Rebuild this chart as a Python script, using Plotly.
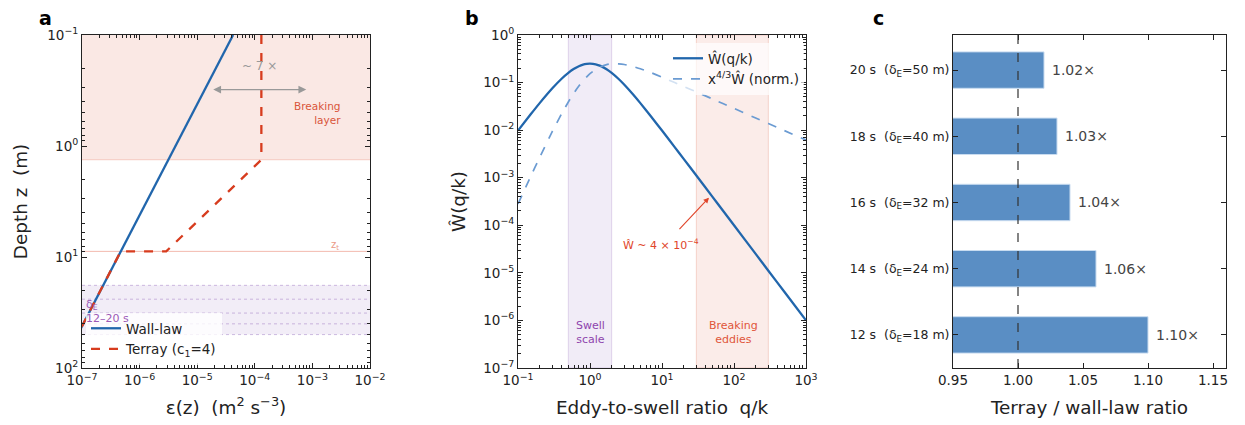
import math
import plotly.graph_objects as go

# ---------------- Panel a data ----------------
wall_depth = [0.1, 1.0, 8.9, 42.0, 100.0]
wall_eps = [4.2e-5, 4.2e-6, 4.7e-7, 1.0e-7, 4.2e-8]
terray_depth = [0.1, 1.33, 8.9, 8.9, 42.0, 100.0]
terray_eps = [1.3e-4, 1.3e-4, 2.9e-6, 4.7e-7, 1.0e-7, 4.2e-8]
breaking_layer = [0.1, 1.33]
z_t = 8.9
delta_E = [18, 24, 32, 40, 50]
ratio_arrow_eps = [1.9e-5, 8.3e-4]
ratio_arrow_depth = 0.31

# ---------------- Panel b data ----------------
qk = [0.1, 0.15, 0.2, 0.3, 0.4, 0.5, 0.6, 0.7, 0.8, 0.9, 1.0, 1.2, 1.4, 1.7, 2.0,
      2.5, 3.0, 4.0, 5.0, 7.0, 10.0, 15.0, 20.0, 30.0, 50.0, 70.0, 100.0, 200.0,
      300.0, 500.0, 1000.0]
W_hat = [0.0098, 0.0215, 0.037, 0.0758, 0.119, 0.16, 0.195, 0.221, 0.238, 0.247,
         0.25, 0.242, 0.224, 0.191, 0.16, 0.119, 0.09, 0.0554, 0.037, 0.0196, 0.0098,
         0.0044, 0.00249, 0.00111, 0.0004, 0.000204, 0.0001, 0.000025, 0.0000111,
         0.000004, 0.000001]
W_comp = [0.00028, 0.00106, 0.00267, 0.00937, 0.0216, 0.0391, 0.0607, 0.0845,
          0.109, 0.132, 0.154, 0.19, 0.216, 0.239, 0.248, 0.248, 0.24, 0.216, 0.195,
          0.162, 0.13, 0.1, 0.083, 0.0637, 0.0454, 0.0363, 0.0286, 0.018, 0.0138,
          0.0098, 0.0062]
swell_band = [0.5, 2.0]
breaking_band = [30.0, 300.0]
annot_point = [45.0, 3.8e-4]

# ---------------- Panel c data ----------------
periods = ["12 s", "14 s", "16 s", "18 s", "20 s"]
deltaE_c = [18, 24, 32, 40, 50]
ratios = [1.10, 1.06, 1.04, 1.03, 1.02]

FONT = "DejaVu Sans"
INK = "#222222"
BLUE = "#2166ac"
RED = "#d73c1e"
LBLUE = "#6b9bd2"
TITLE = 18.4

# page body has an 8px margin; figure is sized to fit the window
OFF = 8
W_FIG, H_FIG = 1245 - OFF, 425 - OFF


def PX(px):
    return (px - OFF) / W_FIG


def PY(py):
    return 1 - (py - OFF) / H_FIG


fig = go.Figure()

fig.add_trace(go.Scatter(x=wall_eps, y=wall_depth, mode="lines", name="Wall-law",
                         line=dict(color=BLUE, width=2.3), xaxis="x", yaxis="y",
                         legend="legend"))
fig.add_trace(go.Scatter(x=terray_eps, y=terray_depth, mode="lines",
                         name="Terray (c<sub>1</sub>=4)",
                         line=dict(color=RED, width=2.3, dash="dash"),
                         xaxis="x", yaxis="y", legend="legend"))

fig.add_trace(go.Scatter(x=qk, y=W_hat, mode="lines", name="Ŵ(q/k)",
                         line=dict(color=BLUE, width=2.3, shape="spline", smoothing=0.5),
                         xaxis="x2", yaxis="y2", legend="legend2"))
fig.add_trace(go.Scatter(x=qk, y=W_comp, mode="lines",
                         name="x<sup>4/3</sup>Ŵ (norm.)",
                         line=dict(color=LBLUE, width=1.7, dash="dash", shape="spline",
                                   smoothing=0.5),
                         xaxis="x2", yaxis="y2", legend="legend2"))

ylabels = [f"{p}\u00a0 (δ<sub>E</sub>={d} m)" for p, d in zip(periods, deltaE_c)]
fig.add_trace(go.Bar(x=ratios, y=ylabels, orientation="h", width=0.55,
                     marker=dict(color="#5a8ec4", line=dict(color="#c9dcf0", width=1)),
                     showlegend=False, xaxis="x3", yaxis="y3"))

shapes = []
shapes.append(dict(type="rect", xref="x domain", yref="y", x0=0, x1=1,
                   y0=breaking_layer[0], y1=breaking_layer[1],
                   fillcolor="rgba(230,130,105,0.18)", line=dict(width=0), layer="below"))
shapes.append(dict(type="line", xref="x domain", yref="y", x0=0, x1=1,
                   y0=breaking_layer[1], y1=breaking_layer[1],
                   line=dict(color="rgba(230,130,105,0.35)", width=1), layer="below"))
shapes.append(dict(type="line", xref="x domain", yref="y", x0=0, x1=1, y0=z_t, y1=z_t,
                   line=dict(color="rgba(235,140,120,0.6)", width=1), layer="below"))
shapes.append(dict(type="rect", xref="x domain", yref="y", x0=0, x1=1,
                   y0=min(delta_E), y1=max(delta_E),
                   fillcolor="rgba(150,110,190,0.12)", line=dict(width=0), layer="below"))
for d in delta_E:
    shapes.append(dict(type="line", xref="x domain", yref="y", x0=0, x1=1, y0=d, y1=d,
                       line=dict(color="rgba(150,110,190,0.45)", width=1, dash="dot"),
                       layer="below"))
shapes.append(dict(type="rect", xref="x2", yref="y2 domain", x0=swell_band[0],
                   x1=swell_band[1], y0=0, y1=1,
                   fillcolor="rgba(150,110,190,0.13)",
                   line=dict(color="rgba(150,110,190,0.25)", width=1), layer="below"))
shapes.append(dict(type="rect", xref="x2", yref="y2 domain", x0=breaking_band[0],
                   x1=breaking_band[1], y0=0, y1=1,
                   fillcolor="rgba(230,130,105,0.15)",
                   line=dict(color="rgba(230,130,105,0.3)", width=1), layer="below"))
shapes.append(dict(type="line", xref="x3", yref="y3 domain", x0=1.0, x1=1.0, y0=0, y1=1,
                   line=dict(color="#333333", width=1.2, dash="dash"), layer="above"))
fig.update_layout(shapes=shapes)

L = math.log10
ann = []
for txt, xp in [("a", 45), ("b", 472), ("c", 878)]:
    ann.append(dict(text=f"<b>{txt}</b>", xref="paper", yref="paper", x=PX(xp),
                    y=1.0, xanchor="center", yanchor="top", showarrow=False, yshift=2,
                    borderpad=0, font=dict(size=19, color="#000", family=FONT)))
ann.append(dict(x=L(ratio_arrow_eps[0]), y=L(ratio_arrow_depth), ax=L(ratio_arrow_eps[1]),
                ay=L(ratio_arrow_depth), xref="x", yref="y", axref="x", ayref="y",
                text="", showarrow=True, arrowhead=2, arrowside="end+start",
                arrowsize=1.2, arrowwidth=1.3, arrowcolor="#999999"))
ann.append(dict(x=L(1.2e-4), y=L(0.19), xref="x", yref="y", text="~ 7 ×", showarrow=False,
                font=dict(size=12, color="#999999", family=FONT)))
ann.append(dict(x=L(3.4e-3), y=L(0.5), xref="x", yref="y", text="Breaking<br>layer",
                showarrow=False, align="right", xanchor="right",
                font=dict(size=10.5, color="#d9553a", family=FONT)))
ann.append(dict(x=L(2.5e-3), y=L(z_t), xref="x", yref="y", text="z<sub>t</sub>",
                showarrow=False, yanchor="middle", xanchor="center", yshift=6,
                font=dict(size=10, color="#eb9a86", family=FONT)))
ann.append(dict(x=L(1.1e-7), y=L(31.0), xref="x", yref="y", text="δ<sub>E</sub><br>12–20 s",
                showarrow=False, align="left", xanchor="left",
                font=dict(size=11, color="#9b59b6", family=FONT)))
ann.append(dict(x=L(annot_point[0]), y=L(annot_point[1]), xref="x2", yref="y2",
                ax=-31, ay=33, text="", showarrow=True, arrowhead=2, arrowsize=1,
                arrowwidth=1.1, arrowcolor="#e0452a"))
ann.append(dict(x=L(9.7), y=L(3.9e-5), xref="x2", yref="y2",
                text="Ŵ ~ 4 × 10<sup>−4</sup>", showarrow=False,
                font=dict(size=11, color="#e0452a", family=FONT)))
ann.append(dict(x=L(1.0), y=L(5.5e-7), xref="x2", yref="y2", text="Swell<br>scale",
                showarrow=False, font=dict(size=11, color="#8e44ad", family=FONT)))
ann.append(dict(x=L(97.0), y=L(5.5e-7), xref="x2", yref="y2", text="Breaking<br>eddies",
                showarrow=False, font=dict(size=11, color="#e0553a", family=FONT)))
for lab, r in zip(ylabels, ratios):
    ann.append(dict(x=r, y=lab, xref="x3", yref="y3", text=f"{r:.2f}×", showarrow=False,
                    xanchor="left", xshift=6,
                    font=dict(size=14, color="#444444", family=FONT)))
fig.update_layout(annotations=ann)

common = dict(showline=True, linecolor=INK, linewidth=1, mirror="allticks",
              ticks="inside", ticklen=5, tickwidth=1, tickcolor=INK, showgrid=False,
              zeroline=False, automargin=False,
              tickfont=dict(size=13.5, color=INK, family=FONT))
minor = dict(ticks="inside", ticklen=3, tickwidth=0.8, tickcolor=INK, showgrid=False,
             dtick="D1")


def pw(p):
    s = str(abs(p))
    return "10<sup>" + ("−" if p < 0 else "") + s + "</sup>"


xa_ticks = [10.0 ** p for p in range(-7, -1)]
ya_ticks = [10.0 ** p for p in range(-1, 3)]
xb_ticks = [10.0 ** p for p in range(-1, 4)]
yb_ticks = [10.0 ** p for p in range(-7, 1)]

tfont = dict(size=TITLE, family=FONT, color=INK)
dom_y = [PY(368), PY(35)]
fig.update_layout(
    width=W_FIG, height=H_FIG, margin=dict(l=0, r=0, t=0, b=0),
    paper_bgcolor="white", plot_bgcolor="white",
    font=dict(family=FONT, color=INK),
    xaxis=dict(common, domain=[PX(82), PX(370)], type="log", range=[-7, -2],
               tickmode="array", tickvals=xa_ticks,
               ticktext=[pw(p) for p in range(-7, -1)], minor=minor,
               title=dict(text="ε(z)\u00a0 (m<sup>2</sup> s<sup>−3</sup>)", font=tfont,
                          standoff=13)),
    yaxis=dict(common, domain=dom_y, type="log", range=[2, -1], tickmode="array",
               tickvals=ya_ticks, ticktext=[pw(p) for p in range(-1, 3)], minor=minor,
               title=dict(text="Depth z\u00a0 (m)", font=tfont, standoff=14)),
    xaxis2=dict(common, domain=[PX(518), PX(806)], type="log", range=[-1, 3],
                anchor="y2", tickmode="array", tickvals=xb_ticks,
                ticktext=[pw(p) for p in range(-1, 4)], minor=minor,
                title=dict(text="Eddy-to-swell ratio\u00a0 q/k", font=tfont, standoff=13)),
    yaxis2=dict(common, domain=dom_y, type="log", range=[-7, 0], anchor="x2",
                tickmode="array", tickvals=yb_ticks, ticktext=[pw(p) for p in range(-7, 1)],
                minor=minor,
                title=dict(text="Ŵ(q/k)", font=tfont, standoff=12)),
    xaxis3=dict(common, domain=[PX(953), PX(1226)], range=[0.95, 1.16], anchor="y3",
                tickmode="array", tickvals=[0.95, 1.0, 1.05, 1.10, 1.15],
                ticktext=["0.95", "1.00", "1.05", "1.10", "1.15"],
                title=dict(text="Terray / wall-law ratio", font=tfont, standoff=13)),
    yaxis3=dict(common, domain=dom_y, anchor="x3", range=[-0.5, 4.53],
                tickfont=dict(size=12.5, color=INK, family=FONT)),
    legend=dict(x=PX(86), y=PY(313), xanchor="left", yanchor="top",
                bgcolor="rgba(255,255,255,0.8)", font=dict(size=13.5, family=FONT, color=INK),
                tracegroupgap=2),
    legend2=dict(x=PX(668), y=PY(43), xanchor="left", yanchor="top",
                 bgcolor="rgba(255,255,255,0.7)", font=dict(size=13.5, family=FONT, color=INK)),
    bargap=0.45,
)

fig.write_html("out.html")
